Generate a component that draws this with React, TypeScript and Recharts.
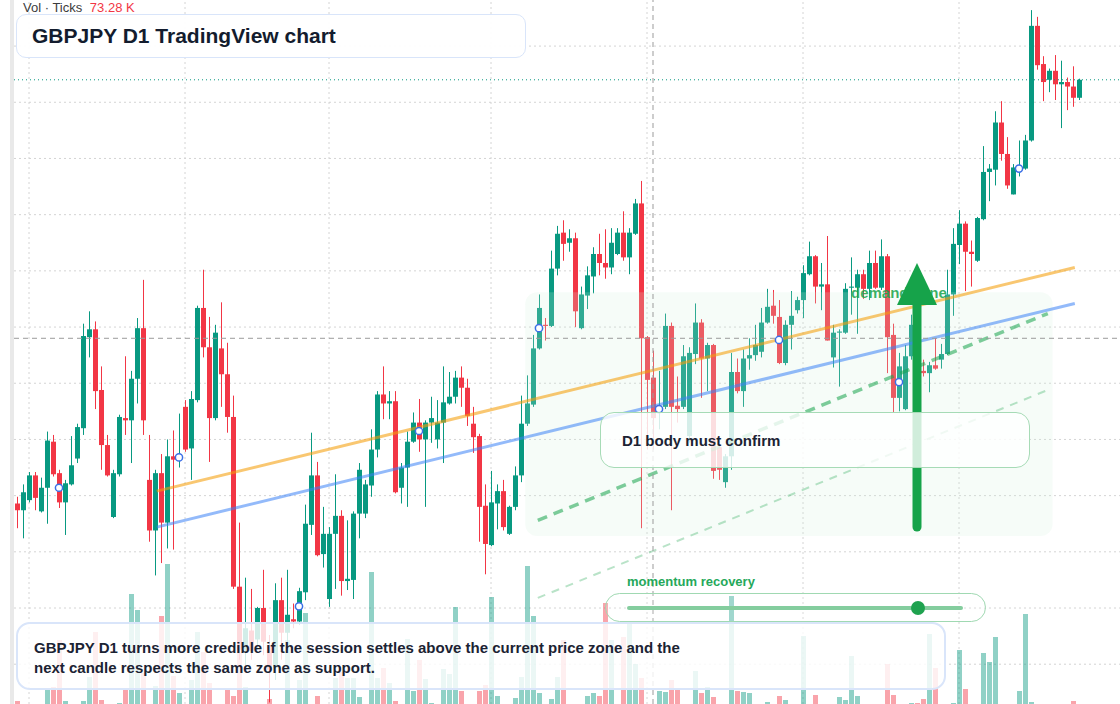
import React from 'react';
import { ComposedChart, Bar, XAxis, YAxis, ReferenceLine, ReferenceArea, ReferenceDot } from 'recharts';

// ---- data (GBPJPY D1) ----
const opens = [194.93,194.87,194.96,195.18,194.86,195.07,195.48,195.20,194.94,195.10,195.33,195.60,196.41,196.48,195.94,195.45,194.81,195.19,195.69,195.67,196.04,196.49,195.14,194.69,195.20,194.76,195.35,195.32,195.79,195.42,195.85,196.67,196.32,195.69,196.31,196.08,195.70,194.19,193.63,193.80,193.72,194.00,193.67,193.47,194.07,193.78,193.90,193.88,194.14,194.74,195.18,194.48,194.08,194.66,194.82,194.24,194.25,194.84,194.84,195.09,195.41,195.90,195.82,195.84,195.07,195.25,195.48,195.65,195.50,195.65,195.50,195.65,195.82,195.88,196.05,195.96,195.64,195.53,194.91,194.56,194.93,195.04,194.66,194.90,195.18,195.64,195.81,196.31,196.52,196.51,197.02,197.34,197.25,197.29,196.49,196.78,196.95,197.15,197.07,197.03,197.15,197.34,197.12,197.33,197.60,196.41,196.05,195.75,195.79,196.51,195.80,195.79,195.53,196.26,196.54,196.22,196.34,195.43,195.12,195.35,196.10,195.93,196.22,196.25,196.28,196.54,196.69,196.59,196.18,196.52,196.65,196.74,196.97,197.13,196.86,196.88,196.23,196.45,196.45,196.85,196.85,196.97,196.84,197.07,196.85,197.13,196.43,195.87,195.77,196.24,196.50,196.11,196.09,196.16,196.21,196.26,196.79,197.23,197.42,197.17,197.09,197.46,197.88,197.90,198.32,198.04,197.68,197.89,197.91,198.16,199.18,198.84,198.70,198.78,198.66,198.68,198.64,198.54];
const highs = [194.99,195.10,195.21,195.21,195.16,195.57,195.54,195.23,195.14,195.53,195.64,196.53,196.64,196.55,196.15,195.54,195.23,195.72,196.24,196.11,196.58,196.92,195.54,195.23,195.37,195.50,195.58,195.73,195.85,195.93,196.69,197.01,196.59,196.52,196.72,196.36,195.89,194.76,194.27,194.17,194.01,194.34,193.76,194.22,194.27,194.34,194.04,194.18,194.92,195.56,195.30,194.90,194.72,195.19,194.87,194.78,194.86,195.29,195.14,195.59,195.93,196.15,195.93,195.93,195.29,195.57,195.74,195.86,195.67,195.88,195.85,196.15,196.10,196.11,196.15,196.04,195.79,195.55,195.10,195.22,195.10,195.14,194.91,195.26,195.89,196.07,196.43,196.79,196.58,197.18,197.40,197.45,197.37,197.34,196.86,197.04,197.21,197.33,197.37,197.38,197.38,197.53,197.38,197.64,197.80,196.42,196.29,196.11,196.62,196.54,196.06,196.34,196.32,196.71,196.57,196.36,196.35,195.45,195.37,196.27,196.22,196.30,196.40,196.52,196.67,196.84,196.83,196.74,196.56,196.82,196.77,197.05,197.26,197.14,197.07,197.31,196.52,196.48,196.89,197.12,197.01,197.01,197.18,197.18,197.28,197.15,196.53,196.27,196.34,196.61,196.55,196.21,196.19,196.40,196.35,197.01,197.38,197.54,197.44,197.27,197.48,198.11,197.95,198.42,198.51,198.19,197.95,198.16,198.21,199.32,199.26,198.91,198.80,198.92,198.87,198.72,198.82,198.71];
const lows = [194.71,194.62,194.94,194.87,194.85,194.75,195.17,194.89,194.65,195.09,195.29,195.54,196.23,195.77,195.23,195.17,194.80,195.17,195.54,195.29,195.82,195.54,194.59,194.29,194.40,194.53,194.52,195.25,195.39,195.14,195.83,196.23,195.30,195.67,195.79,195.56,194.17,193.54,193.49,193.54,193.63,193.58,193.16,193.36,193.54,193.67,193.82,193.85,194.07,194.65,194.46,194.36,194.01,194.17,194.11,194.16,194.08,194.62,194.80,194.99,195.34,195.68,195.68,195.02,194.93,194.90,195.47,195.39,194.90,195.47,195.42,195.29,195.81,195.82,195.79,195.62,195.38,194.59,194.30,194.55,194.70,194.69,194.65,194.87,195.12,195.62,195.79,196.30,196.38,196.50,196.96,197.09,197.17,196.50,196.48,196.66,196.80,196.96,196.93,196.97,197.14,197.09,196.97,197.32,194.71,195.41,195.41,195.59,195.77,194.87,195.65,195.77,195.47,196.17,195.87,195.93,195.15,195.14,195.07,195.23,195.91,195.79,196.12,196.20,196.23,196.53,196.53,196.17,196.16,196.30,196.62,196.58,196.96,196.71,196.65,196.38,196.14,195.97,196.44,196.61,196.44,196.75,196.74,196.84,196.83,196.09,195.74,195.75,195.76,196.21,196.05,196.06,195.92,196.12,196.13,196.25,196.60,197.06,196.82,196.86,197.08,197.45,197.62,197.76,197.98,197.73,197.68,197.84,197.90,198.15,198.79,198.51,198.59,198.52,198.27,198.43,198.46,198.52];
const closes = [194.87,195.03,195.18,194.98,195.07,195.49,195.19,194.94,195.11,195.27,195.61,196.42,196.48,195.93,195.45,195.18,195.20,195.70,195.67,196.04,196.49,195.67,194.69,195.20,194.76,195.35,195.32,195.36,195.41,195.86,196.67,196.32,195.69,196.45,196.08,195.70,194.19,193.63,193.82,193.62,194.00,193.70,193.45,194.07,193.78,193.94,193.88,194.15,194.75,195.18,194.47,194.66,194.66,194.82,194.24,194.26,194.84,195.23,195.10,195.41,195.90,195.82,195.84,195.03,195.25,195.48,195.65,195.50,195.65,195.69,195.65,195.83,195.88,196.05,195.96,195.71,195.52,194.90,194.57,194.94,195.04,194.72,194.90,195.18,195.64,195.82,196.31,196.67,196.51,197.02,197.33,197.24,197.29,196.64,196.79,196.96,197.15,197.07,197.03,197.25,197.34,197.12,197.34,197.60,196.40,196.03,195.69,195.79,196.51,195.79,195.77,196.24,196.27,196.54,196.22,196.34,195.22,195.23,195.35,196.10,195.93,196.22,196.25,196.34,196.54,196.68,196.60,196.18,196.52,196.60,196.74,196.98,197.13,196.86,196.88,196.38,196.45,196.46,196.84,196.86,196.97,196.84,197.07,196.85,197.13,196.41,195.87,196.15,196.24,196.52,196.12,196.09,196.16,196.13,196.26,196.79,197.24,197.42,197.17,197.15,197.47,197.88,197.91,198.32,198.04,197.76,197.92,197.93,198.16,199.18,198.83,198.68,198.78,198.66,198.68,198.64,198.54,198.70];
// volume in thousands of ticks
const volumes = [1.5,0,0,0,0,7,8.5,32,1.5,0,0,1.5,13.5,36,2,0,0,0.5,7,55,47,15.5,0,9,44,70,14,5.5,0,12,36,26,10.5,0,0,8,4,36.5,8.5,0,0,0,2.5,0,0,32,0,12,45.5,0,4,0,0,13,16,13,13,3.5,0,66,13,18,10.5,1.5,0,32.5,6.5,22,12.5,0.5,0,17.5,15,48.5,6.5,0,0,6.5,9.5,53.5,4,0,0,3,13.5,69,44,5.5,0,2.5,13.5,32,0,0,0,4,5.5,4,50.5,32,0,33.5,40.5,20,13,0,0,6.5,6,12,8,0,0,16.5,5.5,8.5,3.5,0,0,54,6.5,6,5.5,0,0,1,0,4,2,0,0,34,0,4.5,0,0,0,3.5,2,24,4,0,0,0,0,20,4.5,0,0,0.5,0.5,2.5,35,18,0,0,0.5,27,7.5,0,0,25.5,21,33.5,0,0,0,6.5,45,1,0,0,0,0,0,0,1.5,0];

const gridPrices = [193.5, 194, 194.5, 195, 195.5, 196, 196.5, 197, 197.5, 198, 198.5, 199];
const gridIdx = [2, 28, 52, 79, 105, 131, 157];
const markerIdx = [7, 27, 47, 67, 87, 107, 127, 147, 167];
const lastPrice = 198.7;
const crossIdx = 106;
const crossPrice = 196.4;
const trendOrange = [{ x: 23.3, y: 195.04 }, { x: 176.3, y: 197.03 }];
const trendBlue = [{ x: 23.3, y: 194.72 }, { x: 176.3, y: 196.71 }];
const trendGreen = [{ x: 86.8, y: 194.78 }, { x: 171.8, y: 196.62 }];
const trendGreenLight = [{ x: 86.8, y: 194.09 }, { x: 171.8, y: 195.94 }];
const demandZone = { x1: 84.7, x2: 172.6, y1: 194.64, y2: 196.81 };
const arrowSeg = [{ x: 150, y: 194.72 }, { x: 150, y: 197.07 }];
const zoneLabelPoint = { x: 139, y: 196.81 };

const UP = '#089981';
const DOWN = '#f23645';
const FONT = '"Liberation Sans", Arial, Helvetica, sans-serif';

const data = opens.map((o, i) => ({
  i,
  o,
  h: highs[i],
  l: lows[i],
  c: closes[i],
  v: volumes[i],
}));

const Candle = (props: any) => {
  const { x, y, width, height, payload } = props;
  if (x == null || y == null || !payload) return null;
  const { o, h, l, c } = payload;
  const top = Math.min(y, y + height);
  const hh = Math.abs(height);
  const range = h - l || 1e-9;
  const yO = top + ((h - o) / range) * hh;
  const yC = top + ((h - c) / range) * hh;
  const cx = Math.floor(x + width / 2) + 0.5;
  const color = c >= o ? UP : DOWN;
  const bTop = Math.min(yO, yC);
  const bH = Math.max(1, Math.abs(yO - yC));
  return (
    <g>
      <line x1={cx} x2={cx} y1={top} y2={top + hh} stroke={color} strokeWidth={1} />
      <rect x={cx - 2.5} y={bTop} width={5} height={bH} fill={color} />
    </g>
  );
};

const VolBar = (props: any) => {
  const { x, y, width, height, payload } = props;
  if (x == null || !payload || !height) return null;
  const cx = Math.floor(x + width / 2) + 0.5;
  const color = payload.c >= payload.o ? UP : DOWN;
  return <rect x={cx - 2.5} y={y} width={5} height={height} fill={color} fillOpacity={0.45} />;
};

const ZoneShape = (p: any) => (
  <rect x={p.x} y={p.y} width={p.width} height={p.height} rx={12} ry={12} fill="#d4f0dc" fillOpacity={0.2} />
);

const ArrowShape = (p: any) => {
  const { x1, y1, x2, y2 } = p;
  if (x1 == null) return null;
  const head = 42;
  const half = 20;
  const bottom = Math.max(y1, y2);
  const apex = Math.min(y1, y2);
  const cx = (x1 + x2) / 2;
  return (
    <g>
      <line x1={cx} x2={cx} y1={bottom} y2={apex + head - 2} stroke="#16a34a" strokeWidth={9} strokeLinecap="round" />
      <polygon points={`${cx},${apex} ${cx - half},${apex + head} ${cx + half},${apex + head}`} fill="#16a34a" />
    </g>
  );
};

const ZoneLabel = (p: any) => {
  if (p.cx == null) return null;
  return (
    <text x={p.cx} y={p.cy} dominantBaseline="central" fontFamily={FONT} fontWeight={700} fontSize={15} fill="#16a34a" fillOpacity={0.85}>
      demand zone
    </text>
  );
};

const axisIds = { xAxisId: 'x', yAxisId: 'p' };

export default function App() {
  return (
    <div style={{ position: 'absolute', left: 0, top: 0, width: 1120, height: 704, overflow: 'hidden', background: '#ffffff', fontFamily: FONT }}>
      <div style={{ position: 'absolute', left: 0, top: 0 }}>
        <ComposedChart width={1120} height={704} data={data} margin={{ top: 0, right: 0, bottom: 0, left: 14 }}>
          <XAxis xAxisId="x" type="number" dataKey="i" domain={[-0.5, 183.8333]} allowDataOverflow hide />
          <XAxis xAxisId="xv" type="number" dataKey="i" domain={[-0.5, 183.8333]} allowDataOverflow hide />
          <YAxis yAxisId="p" type="number" domain={[193.146, 199.41]} allowDataOverflow hide />
          <YAxis yAxisId="v" type="number" domain={[0, 352]} allowDataOverflow hide />

          {gridPrices.map((g) => (
            <ReferenceLine key={'gy' + g} {...axisIds} y={g} stroke="#d4d4d4" strokeDasharray="2 3" strokeWidth={1} zIndex={10} />
          ))}
          {gridIdx.map((g) => (
            <ReferenceLine key={'gx' + g} {...axisIds} x={g} stroke="#d4d4d4" strokeDasharray="2 3" strokeWidth={1} zIndex={10} />
          ))}

          <Bar xAxisId="xv" yAxisId="v" dataKey="v" barSize={5} shape={VolBar} isAnimationActive={false} zIndex={20} />
          <Bar xAxisId="x" yAxisId="p" dataKey={(d: any) => [d.l, d.h]} barSize={5} shape={Candle} isAnimationActive={false} zIndex={30} />

          <ReferenceArea {...axisIds} x1={demandZone.x1} x2={demandZone.x2} y1={demandZone.y1} y2={demandZone.y2} shape={ZoneShape} ifOverflow="visible" zIndex={40} />

          <ReferenceLine {...axisIds} segment={trendGreenLight} stroke="#16a34a" strokeOpacity={0.3} strokeWidth={2} strokeDasharray="8 7" ifOverflow="visible" zIndex={50} />
          <ReferenceLine {...axisIds} segment={trendGreen} stroke="#16a34a" strokeOpacity={0.55} strokeWidth={3.5} strokeDasharray="10 7" ifOverflow="visible" zIndex={50} />
          <ReferenceLine {...axisIds} segment={trendOrange} stroke="#f59e0b" strokeOpacity={0.58} strokeWidth={3} ifOverflow="visible" zIndex={50} />
          <ReferenceLine {...axisIds} segment={trendBlue} stroke="#3b82f6" strokeOpacity={0.55} strokeWidth={3} ifOverflow="visible" zIndex={50} />

          <ReferenceLine {...axisIds} y={lastPrice} stroke={UP} strokeDasharray="1 3" strokeWidth={1} zIndex={55} />
          <ReferenceLine {...axisIds} y={crossPrice} stroke="#9b9b9b" strokeDasharray="5 4" strokeWidth={1} zIndex={55} />
          <ReferenceLine {...axisIds} x={crossIdx} stroke="#9b9b9b" strokeDasharray="5 4" strokeWidth={1} zIndex={55} />

          {markerIdx.map((m) => (
            <ReferenceDot key={'m' + m} {...axisIds} x={m} y={(opens[m] + closes[m]) / 2} r={3.6} fill="#ffffff" stroke="#3b6fe6" strokeWidth={1.5} zIndex={60} />
          ))}

          <ReferenceDot {...axisIds} x={zoneLabelPoint.x} y={zoneLabelPoint.y} r={0} shape={ZoneLabel} ifOverflow="visible" zIndex={65} />
          <ReferenceLine {...axisIds} segment={arrowSeg} shape={ArrowShape} ifOverflow="visible" zIndex={70} />
        </ComposedChart>
      </div>

      {/* left frame strip */}
      <div style={{ position: 'absolute', left: 10, top: 0, width: 4, height: 704, background: '#e9e9e9' }} />

      {/* volume legend */}
      <div style={{ position: 'absolute', left: 23, top: 0, fontSize: 13, lineHeight: '16px', color: '#3c3c3c', whiteSpace: 'nowrap' }}>
        Vol · Ticks <span style={{ color: DOWN, marginLeft: 4 }}>73.28 K</span>
      </div>

      {/* title */}
      <div style={{ position: 'absolute', left: 16, top: 14, width: 510, height: 44, boxSizing: 'border-box', border: '1.5px solid #d9e5fa', borderRadius: 10, background: 'rgba(255,255,255,0.95)', display: 'flex', alignItems: 'center', paddingLeft: 15 }}>
        <span style={{ fontSize: 21, fontWeight: 700, color: '#131c2e', whiteSpace: 'nowrap' }}>GBPJPY D1 TradingView chart</span>
      </div>

      {/* D1 box */}
      <div style={{ position: 'absolute', left: 600, top: 412, width: 430, height: 56, boxSizing: 'border-box', border: '1.5px solid #a6dbb6', borderRadius: 14, background: 'rgba(255,255,255,0.8)', display: 'flex', alignItems: 'center', paddingLeft: 21 }}>
        <span style={{ fontSize: 15, fontWeight: 700, color: '#1b2333', whiteSpace: 'nowrap' }}>D1 body must confirm</span>
      </div>

      {/* momentum slider */}
      <div style={{ position: 'absolute', left: 627, top: 574, fontSize: 13, lineHeight: '16px', fontWeight: 700, color: '#25a85a', whiteSpace: 'nowrap' }}>momentum recovery</div>

      {/* bottom note */}
      <div style={{ position: 'absolute', left: 16, top: 622, width: 930, height: 68, boxSizing: 'border-box', border: '2px solid #d9e5fa', borderRadius: 14, background: 'rgba(255,255,255,0.82)', paddingLeft: 16, paddingTop: 14 }}>
        <div style={{ fontSize: 15, lineHeight: '20px', fontWeight: 700, color: '#1b2333' }}>
          GBPJPY D1 turns more credible if the session settles above the current price zone and the
          <br />
          next candle respects the same zone as support.
        </div>
      </div>

      <div style={{ position: 'absolute', left: 605, top: 593, width: 381, height: 29, boxSizing: 'border-box', border: '1.5px solid #a0d9b2', borderRadius: 15, background: 'rgba(255,255,255,0.15)' }} />
      <div style={{ position: 'absolute', left: 627, top: 606, width: 336, height: 4, borderRadius: 2, background: '#84cd9e' }} />
      <div style={{ position: 'absolute', left: 911, top: 601, width: 14, height: 14, borderRadius: 7, background: '#1fa24f' }} />
    </div>
  );
}
